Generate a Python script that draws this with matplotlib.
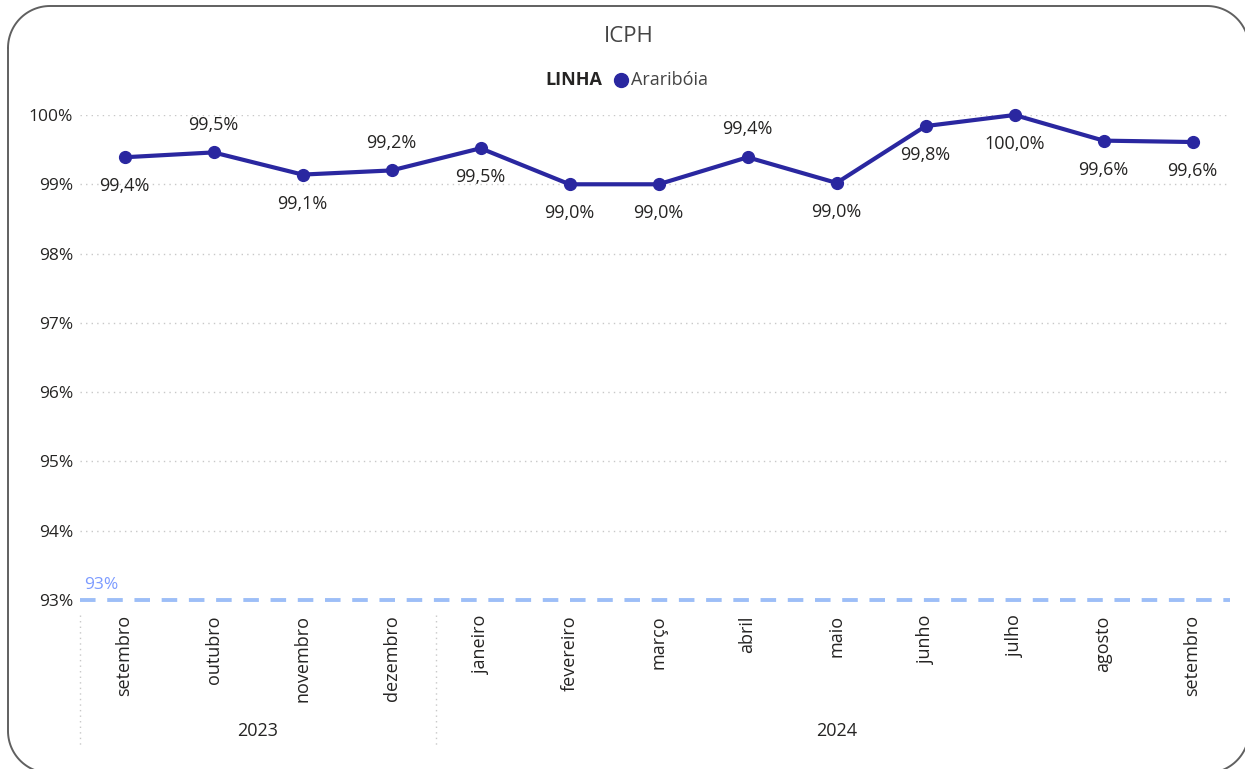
import matplotlib
matplotlib.use("Agg")
import matplotlib.pyplot as plt
import numpy as np
from matplotlib.lines import Line2D
import matplotlib.transforms as mtransforms

months = ["setembro", "outubro", "novembro", "dezembro", "janeiro", "fevereiro",
          "março", "abril", "maio", "junho", "julho", "agosto", "setembro"]
years = ["2023", "2024"]
year_counts = [4, 9]
values = [99.39, 99.46, 99.14, 99.20, 99.52, 99.00, 99.00, 99.39, 99.02, 99.84, 100.0, 99.63, 99.61]
labels = ["99,4%", "99,5%", "99,1%", "99,2%", "99,5%", "99,0%", "99,0%", "99,4%",
          "99,0%", "99,8%", "100,0%", "99,6%", "99,6%"]
label_above = [False, True, False, True, False, False, False, True, False, False, False, False, False]
yticks = [93, 94, 95, 96, 97, 98, 99, 100]
target = 93

W, H = 1245, 769
plt.rcParams['font.family'] = ['Open Sans', 'DejaVu Sans']
fig = plt.figure(figsize=(W / 100, H / 100), dpi=100)

# rounded border in pixel coordinates (top-left origin), converted to figure fraction
bx0, by0, bx1, by1, r = 8, 6, 1249, 773, 42
pts = []
for cx, cy, a0, a1 in [(bx0 + r, by0 + r, 180, 270), (bx1 - r, by0 + r, 270, 360),
                       (bx1 - r, by1 - r, 0, 90), (bx0 + r, by1 - r, 90, 180)]:
    a = np.radians(np.linspace(a0, a1, 30))
    pts += list(zip(cx + r * np.cos(a), cy + r * np.sin(a)))
pts.append(pts[0])
px = np.array([p[0] for p in pts]) / W
py = 1 - np.array([p[1] for p in pts]) / H
fig.add_artist(Line2D(px, py, transform=fig.transFigure, color="#606060", linewidth=1.4))

x0, x1 = 80, 1230
ytop, ybot = 115, 600
ax = fig.add_axes([x0 / W, (H - ybot) / H, (x1 - x0) / W, (ybot - ytop) / H])
ax.set_xlim(-0.5, len(months) - 1 + 0.42)
ax.set_ylim(93, 100)
for s in ax.spines.values():
    s.set_visible(False)

for t in yticks:
    if t != target:
        ax.axhline(t, color="#C8C8C8", linestyle=(0, (1, 3)), linewidth=1, zorder=1)
ax.axhline(target, color="#9DBEF7", linestyle=(0, (4, 3)), linewidth=2.8, zorder=2, clip_on=False)
ax.text(-0.45, target + 0.1, "93%", color="#7C9BFF", fontsize=12.5, ha="left", va="bottom")

xs = list(range(len(months)))
ax.plot(xs, values, color="#2A27A0", linewidth=3, marker="o", markersize=8.5,
        zorder=4, clip_on=False)
for x, v, lab, up in zip(xs, values, labels, label_above):
    off = 20 if up else -21
    ax.annotate(lab, (x, v), xytext=(0, off), textcoords="offset points",
                ha="center", va="center", fontsize=13, color="#252423")

ax.set_yticks(yticks)
ax.set_yticklabels([f"{t}%" for t in yticks], fontsize=12.5, color="#252423")
ax.tick_params(axis="y", length=0, pad=5)
ax.set_xticks(xs)
ax.set_xticklabels(months, rotation=90, fontsize=13, color="#252423", va="top")
ax.tick_params(axis="x", length=0, pad=11)

# year grouping
trans = mtransforms.blended_transform_factory(ax.transData, fig.transFigure)
start = 0
seps = [-0.5]
for yr, c in zip(years, year_counts):
    mid = start + (c - 1) / 2
    ax.text(mid, (H - 731) / H, yr, transform=trans, ha="center", va="center",
            fontsize=13, color="#252423")
    start += c
    seps.append(start - 0.5)
for sx in seps[:-1]:
    fig.add_artist(Line2D([sx, sx], [(H - 615) / H, (H - 748) / H], transform=trans,
                          color="#C8C8C8", linestyle=(0, (1, 3)), linewidth=1))

fig.text(629 / W, 1 - 37 / H, "ICPH", ha="center", va="center", fontsize=16, color="#444444")
fig.text(602 / W, 1 - 80 / H, "LINHA", ha="right", va="center", fontsize=13,
         fontweight="bold", color="#252423")
fig.add_artist(Line2D([621 / W], [1 - 80 / H], marker="o", markersize=10, color="#2A27A0",
                      linestyle="none", transform=fig.transFigure))
fig.text(631 / W, 1 - 80 / H, "Araribóia", ha="left", va="center", fontsize=13, color="#444444")

fig.savefig("out.png", dpi=100)
